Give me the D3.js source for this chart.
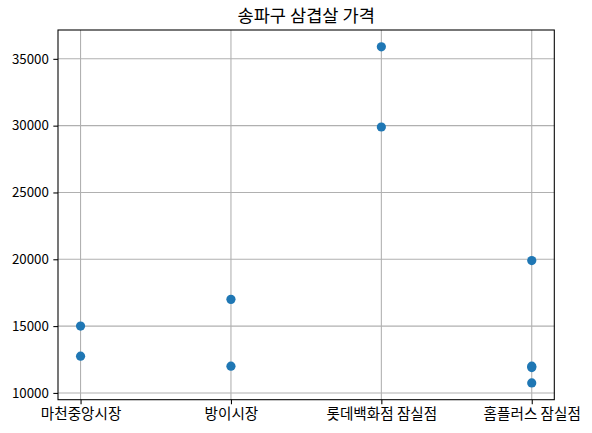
<!DOCTYPE html>
<html><head><meta charset="utf-8">
<script src="https://cdn.jsdelivr.net/npm/d3@7"></script>
<style>body{margin:0;background:#fff}svg{display:block}</style>
</head><body>
<script>
const title = "송파구 삼겹살 가격";
const categories = ["마천중앙시장", "방이시장", "롯데백화점 잠실점", "홈플러스 잠실점"];
const pointCats = ["마천중앙시장","마천중앙시장","방이시장","방이시장","롯데백화점 잠실점","롯데백화점 잠실점","홈플러스 잠실점","홈플러스 잠실점","홈플러스 잠실점","홈플러스 잠실점"];
const pointVals = [15000, 12750, 17000, 12000, 35900, 29900, 19900, 12000, 11900, 10750];
const yTicks = [10000, 15000, 20000, 25000, 30000, 35000];

const W = 592, H = 433;
const m = {left: 58, right: 592-554.3, top: 30, bottom: 433-399.7};
const font = "'Noto Sans CJK KR','Noto Sans',sans-serif";
const svg = d3.select("body").append("svg").attr("width", W).attr("height", H);

const x = d3.scaleLinear().domain([-0.15, categories.length - 1 + 0.15]).range([m.left, W - m.right]);
const ymin = d3.min(pointVals), ymax = d3.max(pointVals), pad = (ymax - ymin) * 0.05;
const y = d3.scaleLinear().domain([ymin - pad, ymax + pad]).range([H - m.bottom, m.top]);

const g = svg.append("g");
g.selectAll(".vg").data(categories).enter().append("line")
  .attr("x1", (d,i)=>x(i)).attr("x2",(d,i)=>x(i)).attr("y1", m.top).attr("y2", H-m.bottom)
  .attr("stroke", "#b0b0b0").attr("stroke-width", 1.07);
g.selectAll(".hg").data(yTicks).enter().append("line")
  .attr("x1", m.left).attr("x2", W-m.right).attr("y1", d=>y(d)).attr("y2", d=>y(d))
  .attr("stroke", "#b0b0b0").attr("stroke-width", 1.07);

g.selectAll("circle").data(pointVals).enter().append("circle")
  .attr("cx", (d,i)=>x(categories.indexOf(pointCats[i])))
  .attr("cy", d=>y(d)).attr("r", 4.6).attr("fill", "#1f77b4");

const xAxis = d3.axisBottom(x).tickValues(d3.range(categories.length)).tickFormat(i=>categories[i]).tickSize(4.67).tickPadding(4);
const yAxis = d3.axisLeft(y).tickValues(yTicks).tickFormat(d3.format("d")).tickSize(4.67).tickPadding(4.5);
const xa = svg.append("g").attr("transform", `translate(0,${H-m.bottom})`).call(xAxis);
const ya = svg.append("g").attr("transform", `translate(${m.left},0)`).call(yAxis);
[xa, ya].forEach(a => {
  a.select(".domain").remove();
  a.selectAll(".tick line").attr("stroke", "#000").attr("stroke-width", 1.07);
  a.selectAll(".tick text").attr("fill", "#000").style("font-family", font).style("font-size", "13.3px");
});
xa.selectAll(".tick text").style("font-size", "14.6px");

svg.append("rect").attr("x", m.left).attr("y", m.top).attr("width", W-m.left-m.right).attr("height", H-m.top-m.bottom)
  .attr("fill", "none").attr("stroke", "#000").attr("stroke-width", 1.07);

svg.append("text").attr("x", (m.left + W - m.right)/2).attr("y", 22).attr("text-anchor", "middle")
  .style("font-family", font).style("font-size", "17.6px").attr("fill", "#000").text(title);
</script>
</body></html>
